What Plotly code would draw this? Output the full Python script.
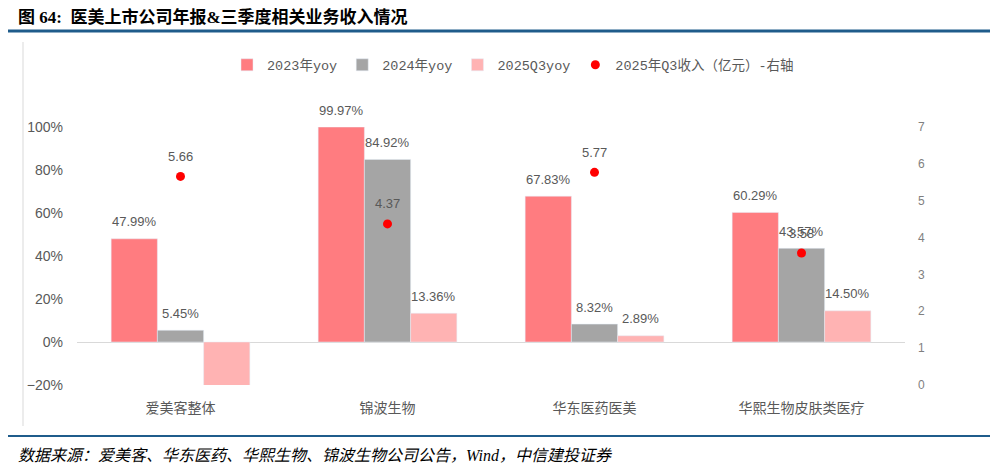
import plotly.graph_objects as go

categories = ["爱美客整体", "锦波生物", "华东医药医美", "华熙生物皮肤类医疗"]
series_names = ["2023年yoy", "2024年yoy", "2025Q3yoy"]
yoy_2023 = [0.4799, 0.9997, 0.6783, 0.6029]
yoy_2024 = [0.0545, 0.8492, 0.0832, 0.4357]
yoy_2025q3 = [-0.21, 0.1336, 0.0289, 0.1450]
rev_2025q3 = [5.66, 4.37, 5.77, 3.58]

# the page body has an 8px margin, so the figure is drawn 8px in from the corner
OFF = 8
W, H = 998 - OFF, 469 - OFF
gray_txt = "#595959"
cn_font = "Noto Sans CJK SC"

# plot area in reference pixels
px0, px1 = 77 - OFF, 905 - OFF
py0, py1 = 127 - OFF, 385 - OFF
BARGAP = 0.33
bar_w = (px1 - px0) / len(categories) * (1 - BARGAP) / 3


def xp(px):
    return (px - OFF - px0) / (px1 - px0)


def yp(py):
    return (py1 - (py - OFF)) / (py1 - py0)


fig = go.Figure()
colors = ["#FF7C80", "#A5A5A5", "#FFB3B3"]
all_vals = [yoy_2023, yoy_2024, yoy_2025q3]
for i, (name, vals, col) in enumerate(zip(series_names, all_vals, colors)):
    fig.add_trace(go.Bar(x=categories, y=vals, name=name, marker_color=col))
    for c, v in zip(categories, vals):
        if v < -0.2:
            continue  # label falls outside the axis, Excel drops it
        fig.add_annotation(x=c, y=v, text=f"{v:.2%}", showarrow=False,
                           xshift=(i - 1) * bar_w, yshift=17 if v >= 0 else -17,
                           font=dict(family="Liberation Sans", size=13, color=gray_txt))

fig.add_trace(go.Scatter(
    x=categories, y=rev_2025q3, yaxis="y2", mode="markers",
    name="2025年Q3收入（亿元）-右轴",
    marker=dict(color="#FF0000", size=9),
))
for c, v in zip(categories, rev_2025q3):
    fig.add_annotation(x=c, y=v, yref="y2", text=f"{v:.2f}", showarrow=False,
                       yshift=20, font=dict(family="Liberation Sans", size=13, color=gray_txt))

# title, rules and source note
fig.add_annotation(xref="paper", yref="paper", x=xp(16), y=yp(17), xanchor="left", yanchor="middle",
                   text="<b>图 64:  医美上市公司年报&三季度相关业务收入情况</b>", showarrow=False,
                   font=dict(family="Liberation Serif, " + cn_font, size=17, color="#000000"))
fig.add_annotation(xref="paper", yref="paper", x=xp(16), y=yp(455), xanchor="left", yanchor="middle",
                   text="<i>数据来源：爱美客、华东医药、华熙生物、锦波生物公司公告，Wind，中信建投证券</i>",
                   showarrow=False,
                   font=dict(family="Liberation Serif, " + cn_font, size=16, color="#000000"))

fig.add_shape(type="line", xref="paper", yref="paper", x0=xp(5), x1=xp(993), y0=yp(31), y1=yp(31),
              line=dict(color="#1F5C8B", width=3))
fig.add_shape(type="line", xref="paper", yref="paper", x0=xp(5), x1=xp(993), y0=yp(436), y1=yp(436),
              line=dict(color="#1F5C8B", width=2))
fig.add_shape(type="line", xref="paper", yref="paper", x0=xp(23), x1=xp(23), y0=yp(42), y1=yp(426),
              line=dict(color="#D9D9D9", width=1))

fig.update_layout(
    width=W, height=H,
    margin=dict(l=px0, r=W - px1, t=py0, b=H - py1),
    paper_bgcolor="white", plot_bgcolor="white",
    barmode="group", bargap=BARGAP, bargroupgap=0,
    showlegend=True,
    legend=dict(orientation="h", x=xp(513), y=yp(65), xanchor="center", yanchor="middle",
                font=dict(family="Liberation Mono, " + cn_font, size=13.5, color=gray_txt),
                itemwidth=30, tracegroupgap=0),
    xaxis=dict(showline=False, ticks="", ticklabelstandoff=13,
               tickfont=dict(family=cn_font, size=14, color=gray_txt)),
    yaxis=dict(range=[-0.2, 1.0], dtick=0.2, tickformat=".0%", showgrid=False,
               zeroline=True, zerolinecolor="#D9D9D9", zerolinewidth=1, ticks="",
               ticklabelstandoff=13,
               tickfont=dict(family="Liberation Sans", size=14, color=gray_txt)),
    yaxis2=dict(range=[0, 7], dtick=1, overlaying="y", side="right", showgrid=False,
                zeroline=False, ticks="", ticklabelstandoff=12,
                tickfont=dict(family="Liberation Sans", size=12, color="#7F7F7F")),
    font=dict(family=cn_font, color=gray_txt),
)

fig.write_html("out.html")
